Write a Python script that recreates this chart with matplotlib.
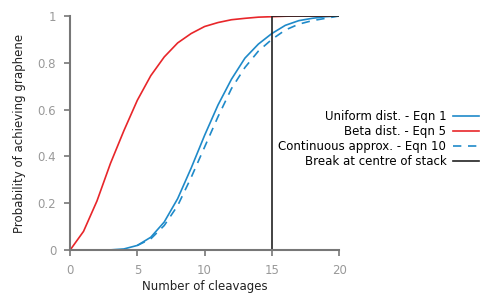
import matplotlib
matplotlib.use("Agg")
import matplotlib.pyplot as plt

cleavages = list(range(0, 21))
uniform = [0, 0, 0, 0.001, 0.005, 0.02, 0.055, 0.12, 0.22, 0.35, 0.49,
           0.62, 0.73, 0.82, 0.88, 0.925, 0.96, 0.98, 0.99, 0.997, 1.0]
beta = [0, 0.08, 0.21, 0.37, 0.51, 0.64, 0.745, 0.825, 0.885, 0.925, 0.955,
        0.972, 0.984, 0.99, 0.995, 0.997, 0.999, 1.0, 1.0, 1.0, 1.0]
cont_x = list(range(5, 21))
cont = [0.02, 0.048, 0.105, 0.19, 0.31, 0.44, 0.57, 0.69, 0.78, 0.85,
        0.90, 0.94, 0.965, 0.98, 0.99, 1.0]
break_x = [15, 15, 20]
break_y = [0, 1, 1]

fig = plt.figure(figsize=(4.9, 2.96), dpi=100)
ax = fig.add_axes([0.143, 0.155, 0.549, 0.791])

ax.plot(cleavages, uniform, color="#1f8ac9", lw=1.2, label="Uniform dist. - Eqn 1")
ax.plot(cleavages, beta, color="#e8262a", lw=1.2, label="Beta dist. - Eqn 5")
ax.plot(cont_x, cont, color="#1f8ac9", lw=1.2, ls=(0, (5, 4)), label="Continuous approx. - Eqn 10")
ax.plot(break_x, break_y, color="#222222", lw=1.2, label="Break at centre of stack")

ax.set_xlim(0, 20)
ax.set_ylim(0, 1)
ax.set_xticks([0, 5, 10, 15, 20])
ax.set_yticks([0, 0.2, 0.4, 0.6, 0.8, 1])
ax.set_yticklabels(["0", "0.2", "0.4", "0.6", "0.8", "1"])
for s in ["top", "right"]:
    ax.spines[s].set_visible(False)
for s in ["left", "bottom"]:
    ax.spines[s].set_color("#777777")
    ax.spines[s].set_linewidth(1.5)
ax.tick_params(colors="#777777", labelsize=8.5, length=4, width=1.2, pad=6)
for lab in ax.get_xticklabels() + ax.get_yticklabels():
    lab.set_color("#999999")

ax.set_xlabel("Number of cleavages", fontsize=8.5, color="#222222", labelpad=2)
ax.set_ylabel("Probability of achieving graphene", fontsize=8.5, color="#222222", labelpad=8)

fig.legend(loc="center right", bbox_to_anchor=(1.0, 0.53), frameon=False,
           markerfirst=False, fontsize=8.5, handlelength=2.2, labelspacing=0.15,
           handletextpad=0.6)

fig.savefig("out.png", dpi=100)
